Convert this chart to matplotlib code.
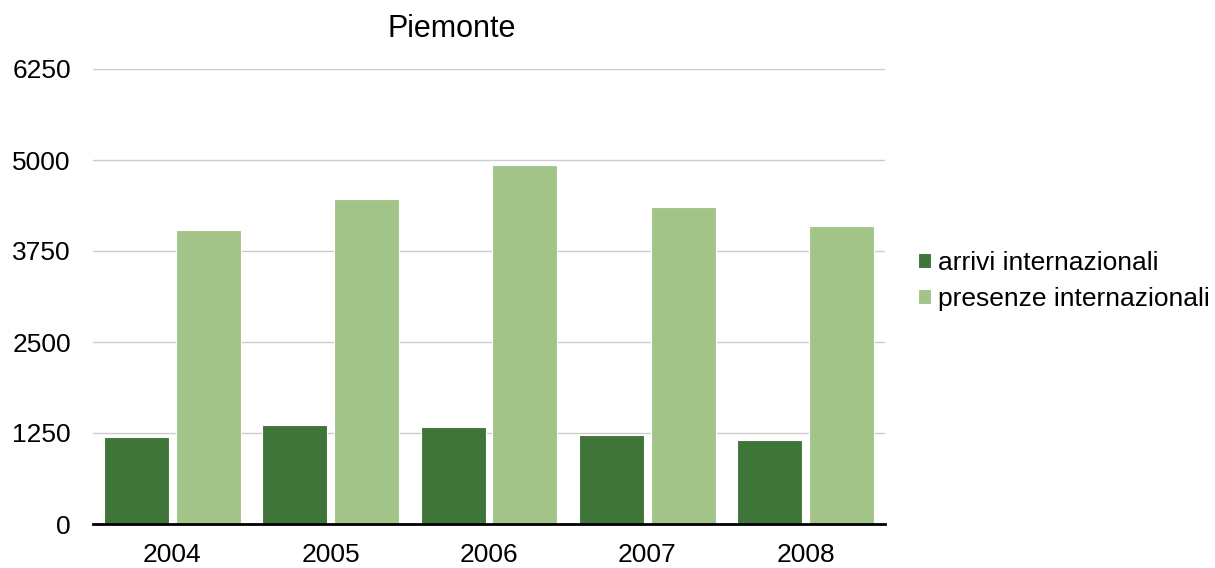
import numpy as np
import matplotlib.pyplot as plt

plt.rcParams['font.family'] = ['Liberation Sans', 'DejaVu Sans']

years = ['2004', '2005', '2006', '2007', '2008']
arrivi = [1191, 1360, 1328, 1222, 1158]
presenze = [4035, 4461, 4936, 4351, 4091]
yticks = [0, 1250, 2500, 3750, 5000, 6250]

fig = plt.figure(figsize=(12.15, 5.68), dpi=100)
ax = fig.add_axes([93 / 1215, 1 - 524 / 568, 792 / 1215, 455 / 568])

x = np.arange(len(years))
w = 0.41
ax.bar(x - w / 2 - 0.022, arrivi, w, color='#3f7539', edgecolor='white', linewidth=0.8,
       label='arrivi internazionali', zorder=3)
ax.bar(x + w / 2 + 0.022, presenze, w, color='#a2c489', edgecolor='white', linewidth=0.8,
       label='presenze internazionali', zorder=3)

ax.set_xlim(-0.5, len(years) - 0.5)
ax.set_ylim(0, 6250)
ax.set_yticks(yticks)
ax.set_yticklabels([str(t) for t in yticks], fontsize=19)
ax.set_xticks(x)
ax.set_xticklabels(years, fontsize=19)
ax.grid(axis='y', color='#cccccc', linewidth=1, zorder=0)
for s in ['top', 'right', 'left']:
    ax.spines[s].set_visible(False)
ax.spines['bottom'].set_linewidth(2)
ax.spines['bottom'].set_zorder(4)
ax.tick_params(length=0)
ax.tick_params(axis='x', pad=14)
ax.tick_params(axis='y', pad=16)

fig.text(452 / 1215, 1 - 29 / 568, 'Piemonte', fontsize=22, ha='center', va='center')

ax.legend(loc='center left', bbox_to_anchor=(1.042, 0.534), frameon=False, fontsize=19,
          handlelength=0.5, handleheight=0.5, handletextpad=0.25, labelspacing=0.45,
          borderpad=0, borderaxespad=0)

fig.savefig('out.png', dpi=100)
